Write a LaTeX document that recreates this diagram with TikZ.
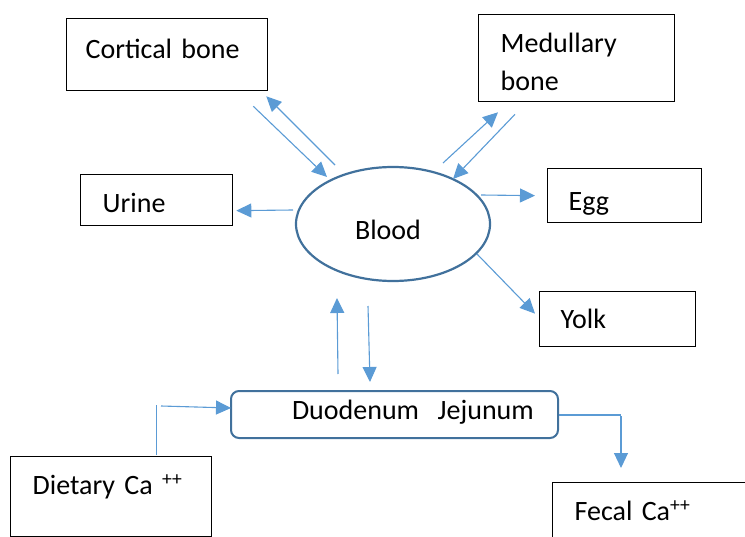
\documentclass[tikz,border=0pt]{standalone}
\usepackage{fontspec}
\setmainfont{Carlito}
\usetikzlibrary{arrows.meta,shapes.geometric}
\setlength{\parindent}{0pt}
\definecolor{linkblue}{HTML}{5B9BD5}
\definecolor{rimblue}{HTML}{41719C}

\begin{document}
\begin{tikzpicture}[x=1bp,y=-1bp,font=\fontsize{28bp}{38bp}\selectfont,
  box/.style={draw, line width=1.3bp, anchor=north west, inner xsep=0pt, inner ysep=0pt, align=left},
  arr/.style={draw=linkblue, line width=1.1bp, -{Triangle[length=15bp,width=14bp]}},
  link/.style={draw=linkblue, line width=1.1bp}]
  \useasboundingbox (0,0) rectangle (745,537);
  \clip (0,0) rectangle (745,537);
  % boxes
  \node[box, text width=201bp, minimum height=72bp, text height=20bp, text depth=12bp] (cortical) at (66,18) {\hspace*{19bp}Cortical bone};
  \node[box, text width=196bp, minimum height=87bp, text height=20bp, text depth=31bp] (medullary) at (478,14) {\hspace*{22bp}Medullary\\\hspace*{22bp}bone};
  \node[box, text width=152bp, minimum height=51bp, text height=25bp, text depth=0pt] (urine) at (80,174) {\hspace*{22bp}Urine};
  \node[box, text width=154bp, minimum height=54bp, text height=30bp, text depth=0pt] (egg) at (547,168) {\hspace*{21bp}Egg};
  \node[box, text width=156bp, minimum height=55bp, text height=20bp, text depth=1bp] (yolk) at (539,291) {\hspace*{21bp}Yolk};
  \node[box, draw=rimblue, line width=2bp, rounded corners=8bp, text width=327bp, minimum height=47bp, text height=20bp, text depth=11bp] (duodenum) at (230,390) {\hspace*{61bp}Duodenum\ \ Jejunum};
  \node[box, text width=201bp, minimum height=80bp, text height=20bp, text depth=24bp] (dietary) at (10,456) {\hspace*{22bp}Dietary Ca \textsuperscript{++}};
  \node[box, text width=220bp, minimum height=80bp, text height=20bp, text depth=24bp] (fecal) at (552,482) {\hspace*{22bp}Fecal Ca\textsuperscript{++}};
  \node[ellipse, draw=rimblue, line width=2.2bp, minimum width=194bp, minimum height=114bp, inner sep=0pt, text height=32bp, text depth=0pt] (blood) at (393,224) {\hspace*{-10bp}Blood};
  % exchange with bone
  \draw[arr] ([shift={(-15,15)}]cortical.south east) -- ([shift={(-66,-47)}]blood.center);
  \draw[arr] ([shift={(-58,-59)}]blood.center) -- ([shift={(-2,5)}]cortical.south east);
  \draw[arr] ([shift={(50,-61)}]blood.center) -- ([shift={(20,10)}]medullary.south west);
  \draw[arr] ([shift={(37,12)}]medullary.south west) -- ([shift={(60,-45)}]blood.center);
  % losses
  \draw[arr] ([shift={(88,-29)}]blood.center) -- ([shift={(-12,0)}]egg.west);
  \draw[arr] ([shift={(84,30)}]blood.center) -- ([shift={(-4,-5.5)}]yolk.west);
  \draw[arr] ([shift={(-100,-14)}]blood.center) -- ([shift={(3,10.5)}]urine.east);
  % gut
  \draw[arr] ([shift={(-56.5,-16)}]duodenum.north) -- ([shift={(-56,74)}]blood.center);
  \draw[arr] ([shift={(-25,82)}]blood.center) -- ([shift={(-24.5,-8)}]duodenum.north);
  \draw[link] ([shift={(45.5,-1)}]dietary.north) -- ++(0,-50);
  \draw[arr] ([shift={(-69,-8.5)}]duodenum.west) -- ([shift={(1,-6.5)}]duodenum.west);
  \draw[link] ([shift={(0,0.5)}]duodenum.east) -- ++(62,0);
  \draw[arr] ([shift={(69,-66)}]fecal.north west) -- ([shift={(69,-14)}]fecal.north west);
\end{tikzpicture}
\end{document}
